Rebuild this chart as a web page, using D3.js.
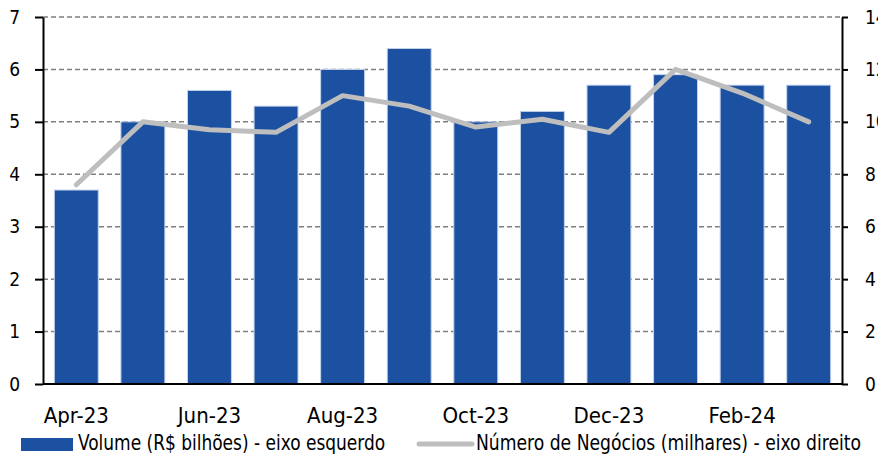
<!DOCTYPE html>
<html>
<head>
<meta charset="utf-8">
<script src="https://cdn.jsdelivr.net/npm/d3@7"></script>
<style>
  body { margin: 0; background: #fff; }
  svg text { font-family: "DejaVu Sans Condensed", "Open Sans", sans-serif; fill: #000; }
</style>
</head>
<body>
<svg id="chart" width="878" height="460"></svg>
<script>
// DATA ------------------------------------------------------------------
const months = ["Apr-23", "May-23", "Jun-23", "Jul-23", "Aug-23", "Sep-23",
                "Oct-23", "Nov-23", "Dec-23", "Jan-24", "Feb-24", "Mar-24"];
const volume = [3.7, 5.0, 5.6, 5.3, 6.0, 6.4, 5.0, 5.2, 5.7, 5.9, 5.7, 5.7];      // R$ bilhões, left axis
const negocios = [7.6, 10.0, 9.7, 9.6, 11.0, 10.6, 9.8, 10.1, 9.6, 12.0, 11.1, 10.0]; // milhares, right axis
const leftTicks = [0, 1, 2, 3, 4, 5, 6, 7];
const rightTicks = [0, 2, 4, 6, 8, 10, 12, 14];
const shownLabels = ["Apr-23", "Jun-23", "Aug-23", "Oct-23", "Dec-23", "Feb-24"];
const legendVolume = "Volume (R$ bilhões) - eixo esquerdo";
const legendNegocios = "Número de Negócios (milhares)  - eixo direito";

// SET UP ----------------------------------------------------------------
const svg = d3.select("#chart");
const margin = { top: 17, right: 36, bottom: 76, left: 43 };
const width = +svg.attr("width");
const height = +svg.attr("height");
const innerWidth = width - margin.left - margin.right;
const innerHeight = height - margin.top - margin.bottom;

const barColor = "#1c51a1";
const lineColor = "#bdbebd";

// stretch/squeeze text horizontally so it takes the original font's width
const squeeze = (sel, k) => sel.each(function () {
  const w = this.getComputedTextLength();
  d3.select(this).attr("textLength", w * k).attr("lengthAdjust", "spacingAndGlyphs");
});

const x = d3.scaleBand().domain(months).range([0, innerWidth]).paddingInner(0.34).paddingOuter(0.17);
const yLeft = d3.scaleLinear().domain([0, 7]).range([innerHeight, 0]);
const yRight = d3.scaleLinear().domain([0, 14]).range([innerHeight, 0]);

const g = svg.append("g").attr("transform", `translate(${margin.left},${margin.top})`);

// GRIDLINES -------------------------------------------------------------
g.append("g")
  .selectAll("line")
  .data(leftTicks.filter(d => d > 0))
  .join("line")
  .attr("x1", 0).attr("x2", innerWidth)
  .attr("y1", d => yLeft(d)).attr("y2", d => yLeft(d))
  .attr("stroke", "#7f7f7f")
  .attr("stroke-width", 1.5)
  .attr("stroke-dasharray", "5,3");

// BARS ------------------------------------------------------------------
g.append("g")
  .selectAll("rect")
  .data(volume)
  .join("rect")
  .attr("x", (d, i) => x(months[i]))
  .attr("y", d => yLeft(d))
  .attr("width", x.bandwidth())
  .attr("height", d => innerHeight - yLeft(d))
  .attr("fill", barColor)
  .attr("stroke", "#c5d3ea")
  .attr("stroke-width", 1);

// LINE ------------------------------------------------------------------
const line = d3.line()
  .x((d, i) => x(months[i]) + x.bandwidth() / 2)
  .y(d => yRight(d));

g.append("path")
  .datum(negocios)
  .attr("fill", "none")
  .attr("stroke", lineColor)
  .attr("stroke-width", 5)
  .attr("stroke-linecap", "round")
  .attr("stroke-linejoin", "round")
  .attr("d", line);

// AXES ------------------------------------------------------------------
const leftAxis = g.append("g")
  .call(d3.axisLeft(yLeft).tickValues(leftTicks).tickFormat(d3.format("d"))
    .tickSize(8).tickSizeOuter(0).tickPadding(15));
const rightAxis = g.append("g")
  .attr("transform", `translate(${innerWidth},0)`)
  .call(d3.axisRight(yRight).tickValues(rightTicks).tickFormat(d3.format("d"))
    .tickSize(6).tickSizeOuter(0).tickPadding(17));

[leftAxis, rightAxis].forEach(a => {
  a.select(".domain").attr("stroke", "#000").attr("stroke-width", 2);
  a.selectAll(".tick line").attr("stroke", "#000").attr("stroke-width", 2);
  a.selectAll(".tick text").attr("font-size", 19).attr("fill", "#000");
});

// x baseline
g.append("line")
  .attr("x1", 0).attr("x2", innerWidth)
  .attr("y1", innerHeight).attr("y2", innerHeight)
  .attr("stroke", "#000").attr("stroke-width", 2);

// x labels (every other month)
const xAxis = g.append("g")
  .attr("transform", `translate(0,${innerHeight})`)
  .call(d3.axisBottom(x).tickValues(shownLabels).tickSize(0).tickPadding(24));
xAxis.select(".domain").remove();
xAxis.selectAll(".tick text").attr("font-size", 21).attr("fill", "#000").call(squeeze, 1.05);

// LEGEND ----------------------------------------------------------------
const legend = svg.append("g").attr("transform", "translate(21,444)");
legend.append("rect")
  .attr("x", 0).attr("y", -6).attr("width", 52).attr("height", 13)
  .attr("fill", barColor);
legend.append("text")
  .attr("x", 57).attr("y", -1).attr("dy", "0.35em")
  .attr("font-size", 21)
  .text(legendVolume)
  .call(squeeze, 0.9);
legend.append("line")
  .attr("x1", 398).attr("x2", 451).attr("y1", 0).attr("y2", 0)
  .attr("stroke", lineColor).attr("stroke-width", 5).attr("stroke-linecap", "round");
legend.append("text")
  .attr("x", 455).attr("y", -1).attr("dy", "0.35em")
  .attr("font-size", 21)
  .text(legendNegocios)
  .call(squeeze, 0.91);
</script>
</body>
</html>
